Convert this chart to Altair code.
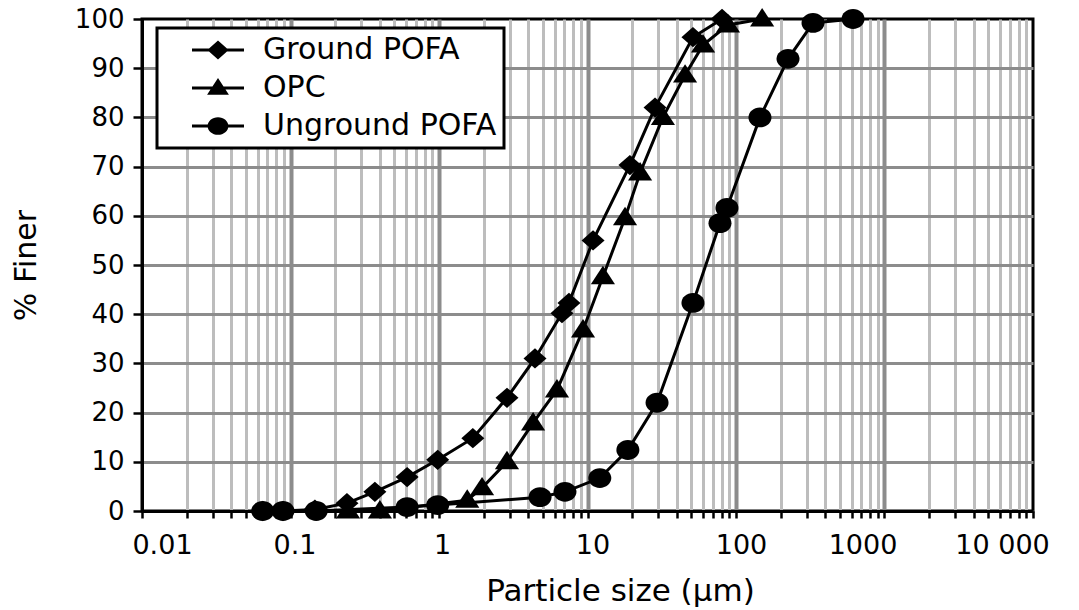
import altair as alt
import pandas as pd

# Particle size distribution (cumulative % finer vs particle size in µm)
series_names = ["Ground POFA", "OPC", "Unground POFA"]

ground_x = [0.065, 0.089, 0.146, 0.24, 0.37, 0.61, 0.98, 1.69, 2.87, 4.43,
            6.73, 7.5, 10.9, 19.3, 28.5, 51.3, 80.5]
ground_y = [0, 0, 0.3, 1.6, 3.9, 6.9, 10.4, 14.8, 23, 31,
            40.2, 42.3, 55, 70.3, 82, 96.3, 100]

opc_x = [0.244, 0.40, 1.55, 1.95, 2.87, 4.30, 6.23, 9.33, 12.7, 17.9,
         22.6, 32.2, 45.4, 60.0, 88.3, 150]
opc_y = [0, 0, 2.2, 4.7, 10, 17.9, 24.6, 36.8, 47.6, 59.6,
         68.7, 80, 88.6, 94.7, 98.8, 100]

unground_x = [0.065, 0.089, 0.149, 0.61, 0.98, 4.79, 7.05, 12.1, 18.7, 29.4,
              51.3, 78, 86.9, 145, 224, 330, 614]
unground_y = [0, 0, 0, 0.8, 1.2, 2.8, 3.9, 6.7, 12.4, 22,
              42.3, 58.5, 61.6, 80, 91.9, 99.2, 100]

major_values = [0.01, 0.1, 1.0, 10.0, 100.0, 1000.0, 10000.0]
major_labels = ["0.01", "0.1", "1", "10", "100", "1000", "10 000"]
label_shift = [20, 4, 3, 5, 5, -22, -31]
x_ticks = [float(f"{m}e{k}") for k in range(-2, 4) for m in range(1, 10)] + [10000.0]
y_ticks = list(range(0, 101, 10))

rows = []
for name, xs, ys in zip(series_names, [ground_x, opc_x, unground_x],
                        [ground_y, opc_y, unground_y]):
    for xv, yv in zip(xs, ys):
        rows.append({"series": name, "size_um": xv, "finer": yv})
df = pd.DataFrame(rows)

# marker outlines (slightly wide)
marker_paths = [
    "M-1,0L0,-0.88L1,0L0,0.88Z",
    "M-1.05,0.65L0,-0.95L1.05,0.65Z",
    "M-1,0A1,0.86,0,1,1,1,0A1,0.86,0,1,1,-1,0Z",
]
# legend glyphs: a thin filled bar (the line) with the marker on top,
# all drawn clockwise so the overlap stays filled
BAR = "M-2,-0.115L2,-0.115L2,0.115L-2,0.115Z"
legend_paths = [
    BAR + "M-0.82,0L0,-0.74L0.82,0L0,0.74Z",
    BAR + "M-0.84,0.52L0,-0.76L0.84,0.52Z",
    BAR + "M-0.8,0A0.8,0.68,0,1,1,0.8,0A0.8,0.68,0,1,1,-0.8,0Z",
]

is_major = " || ".join(f"datum.value == {v}" for v in major_values)
label_expr = "''"
for v, lab in reversed(list(zip(major_values, major_labels))):
    label_expr = f"datum.value == {v} ? '{lab}' : ({label_expr})"

FONT = "DejaVu Sans"

x_enc = alt.X(
    "size_um:Q",
    scale=alt.Scale(type="log", domain=[0.01, 10000], nice=False),
    axis=alt.Axis(
        values=x_ticks,
        labelExpr=label_expr,
        labelOffset={
            "condition": [{"test": f"datum.value == {v}", "value": s}
                          for v, s in zip(major_values, label_shift)],
            "value": 0,
        },
        labelFlush=False,
        labelOverlap=False,
        labelBound=False,
        grid=True,
        gridColor={"condition": {"test": is_major, "value": "#8c8c8c"}, "value": "#bdbdbd"},
        gridWidth={"condition": {"test": is_major, "value": 4}, "value": 3},
        gridOpacity={"condition": {"test": "datum.value == 0.01 || datum.value == 10000", "value": 0},
                     "value": 1},
        tickSize=7,
        tickWidth=2.5,
        tickColor="black",
        domainColor="black",
        domainWidth=3,
        labelFont=FONT,
        labelFontSize=27,
        labelColor="black",
        labelPadding=14,
        title="Particle size (µm)",
        titleFont=FONT,
        titleFontSize=31,
        titleFontWeight="normal",
        titleColor="black",
        titleX=478,
        titleY=89,
        titleAlign="center",
        titleBaseline="alphabetic",
    ),
)

y_enc = alt.Y(
    "finer:Q",
    scale=alt.Scale(domain=[0, 100], nice=False),
    axis=alt.Axis(
        values=y_ticks,
        grid=True,
        gridColor="#8c8c8c",
        gridWidth=3,
        gridOpacity={"condition": {"test": "datum.value == 100", "value": 0}, "value": 1},
        tickSize=9,
        tickWidth=2.5,
        tickColor="black",
        domainColor="black",
        domainWidth=3,
        labelFont=FONT,
        labelFontSize=26,
        labelColor="black",
        labelPadding=9,
        title="% Finer",
        titleFont=FONT,
        titleFontSize=30,
        titleFontWeight="normal",
        titleColor="black",
        titleAngle=270,
        titleX=-107,
        titleBaseline="alphabetic",
    ),
)

base = alt.Chart(df)

lines = base.mark_line(color="black", strokeWidth=3).encode(
    x=x_enc, y=y_enc, detail="series:N", order="size_um:Q"
)

points = base.mark_point(filled=True, color="black", size=530, opacity=1).encode(
    x=x_enc,
    y=y_enc,
    shape=alt.Shape("series:N",
                    scale=alt.Scale(domain=series_names, range=marker_paths),
                    legend=None),
)

# invisible layer that only carries the legend (line-through-marker glyphs)
legend_layer = base.mark_point(
    filled=True, color="black", size=676, opacity=0
).encode(
    x=x_enc,
    y=y_enc,
    shape=alt.Shape(
        "series:N",
        scale=alt.Scale(domain=series_names, range=legend_paths),
        legend=alt.Legend(
            title=None,
            orient="none",
            legendX=15,
            legendY=9,
            fillColor="white",
            strokeColor="black",
            padding=7,
            labelFont=FONT,
            labelFontSize=30,
            labelColor="black",
            labelLimit=400,
            labelOffset=30,
            symbolOffset=39,
            symbolSize=676,
            symbolFillColor="black",
            symbolOpacity=1,
            rowPadding=8,
        ),
    ),
)

chart = (
    alt.layer(lines, points, legend_layer)
    .resolve_scale(shape="independent")
    .properties(
        width=891,
        height=492,
        autosize=alt.AutoSizeParams(type="none"),
        padding={"left": 142, "top": 19, "right": 46, "bottom": 99},
        background="white",
    )
    .configure_view(stroke="black", strokeWidth=3)
    .configure_legend(strokeWidth=3)
)

chart.save("out.html", embed_options={"renderer": "svg", "actions": False})
